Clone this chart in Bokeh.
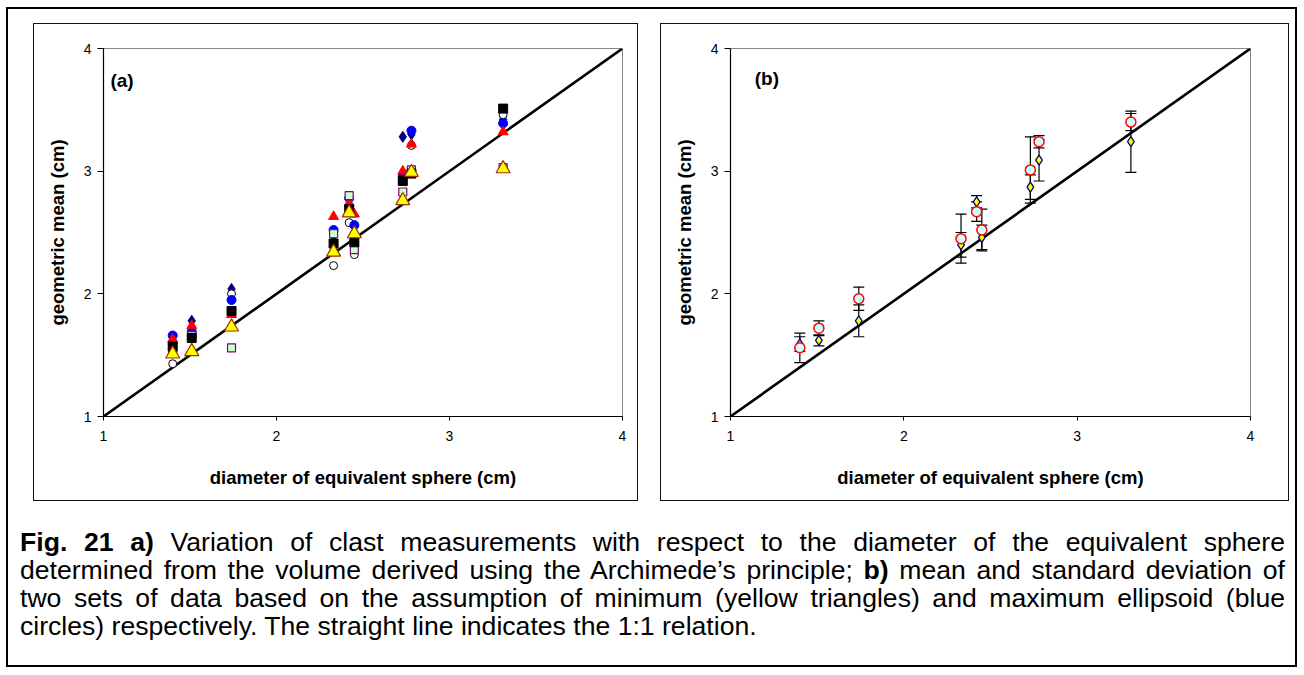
from bokeh.plotting import figure
from bokeh.layouts import row, column
from bokeh.models import Div, Label, Range1d, FixedTicker
from bokeh.embed import file_html
from bokeh.resources import INLINE

# Diameter of the equivalent sphere (cm) for the nine clasts
diameter = [1.40, 1.51, 1.74, 2.33, 2.42, 2.45, 2.73, 2.78, 3.31]

# (a) geometric mean (cm) from each measurement set
gm_navy_diamond = [1.62, 1.78, 2.04, 2.47, 2.72, 2.55, 3.28, 3.30, 3.42]
gm_open_circle = [1.43, 1.65, 2.00, 2.23, 2.58, 2.32, 2.95, 3.21, 3.46]
gm_blue_circle = [1.66, 1.69, 1.95, 2.52, 2.78, 2.56, 2.96, 3.33, 3.39]
gm_red_triangle = [1.63, 1.74, 1.83, 2.63, 2.74, 2.65, 3.00, 3.22, 3.32]
gm_lavender_square = [1.55, 1.66, 1.56, 2.49, 2.80, 2.36, 2.83, 3.01, 3.03]
gm_black_square = [1.57, 1.64, 1.86, 2.41, 2.69, 2.42, 2.92, 2.98, 3.51]
gm_yellow_triangle = [1.51, 1.53, 1.73, 2.34, 2.66, 2.49, 2.76, 2.99, 3.02]

# (b) mean and standard deviation of the two sets
mean_max = [1.56, 1.72, 1.96, 2.45, 2.67, 2.52, 3.01, 3.24, 3.40]
sd_max = [0.12, 0.06, 0.095, 0.20, 0.08, 0.17, 0.27, 0.05, 0.07]
mean_min = [1.59, 1.62, 1.78, 2.40, 2.75, 2.46, 2.87, 3.09, 3.24]
sd_min = [0.06, 0.045, 0.13, 0.10, 0.05, 0.10, 0.10, 0.17, 0.25]

one_to_one = [1, 4]
axis_ticks = [1, 2, 3, 4]

x_title = "diameter of equivalent sphere (cm)"
y_title = "geometric mean (cm)"

caption_lines = [
    "<b>Fig. 21 a)</b> Variation of clast measurements with respect to the diameter of the equivalent sphere",
    "determined from the volume derived using the Archimede\u2019s principle; <b>b)</b> mean and standard deviation of",
    "two sets of data based on the assumption of minimum (yellow triangles) and maximum ellipsoid (blue",
    "circles) respectively. The straight line indicates the 1:1 relation.",
]

FONT = "Liberation Sans"


def make_panel(width, border_left, border_right, tag, tag_x, tag_y, margin):
    p = figure(width=width, height=476, x_range=Range1d(1, 4), y_range=Range1d(1, 4),
               output_backend="svg", toolbar_location=None,
               min_border_left=border_left, min_border_right=border_right,
               min_border_top=24, min_border_bottom=84,
               styles={"outline": "1px solid #111"}, margin=margin)
    p.grid.visible = False
    p.outline_line_color = "#888888"
    p.outline_line_width = 1
    p.background_fill_color = "white"
    p.border_fill_color = "white"
    for ax in (p.xaxis[0], p.yaxis[0]):
        ax.ticker = FixedTicker(ticks=axis_ticks)
        ax.minor_tick_line_color = None
        ax.major_tick_in = 0
        ax.axis_line_color = "black"
        ax.axis_line_width = 1.2
        ax.major_tick_line_color = "black"
        ax.major_label_text_font = FONT
        ax.major_label_text_font_size = "14px"
        ax.major_label_text_color = "black"
        ax.axis_label_text_font = FONT
        ax.axis_label_text_font_style = "bold"
        ax.axis_label_text_font_size = "18.5px"
        ax.axis_label_text_color = "black"
    p.xaxis.axis_label = x_title
    p.yaxis.axis_label = y_title
    p.xaxis.major_tick_out = 4
    p.xaxis.major_label_standoff = 10
    p.xaxis.axis_label_standoff = 23
    p.yaxis.major_tick_out = 6
    p.yaxis.major_label_standoff = 6
    p.yaxis.axis_label_standoff = 13
    p.add_layout(Label(x=tag_x, y=tag_y, text=tag, text_font=FONT, text_font_style="bold",
                       text_font_size="19px", text_baseline="middle", text_color="black"))
    p.line(one_to_one, one_to_one, line_width=2.6, line_color="black")
    return p


# (a) all measurement sets
pa = make_panel(603, 69, 15, "(a)", 1.04, 3.74, (15, 0, 0, 26))
pa.scatter(diameter, gm_navy_diamond, marker="diamond", size=11, fill_color="#000080", line_color="#000080")
pa.scatter(diameter, gm_open_circle, marker="circle", size=8, fill_color="white", line_color="black", line_width=1)
pa.scatter(diameter, gm_blue_circle, marker="circle", size=9, fill_color="#0000FF", line_color="#0000FF")
pa.scatter(diameter, gm_red_triangle, marker="triangle", size=10, fill_color="#FF0000", line_color="#FF0000")
pa.scatter(diameter, gm_lavender_square, marker="square", size=8, fill_color="#CCFFCC", line_color="#800080", line_width=1.2)
pa.scatter(diameter, gm_black_square, marker="square", size=9, fill_color="black", line_color="black")
pa.scatter(diameter, gm_yellow_triangle, marker="triangle", size=14, fill_color="#FFFF00", line_color="#993300", line_width=1.2)

# (b) means with one standard deviation bars
pb = make_panel(627, 69, 38, "(b)", 1.14, 3.755, (15, 7, 0, 24))
lo_min = [m - s for m, s in zip(mean_min, sd_min)]
hi_min = [m + s for m, s in zip(mean_min, sd_min)]
lo_max = [m - s for m, s in zip(mean_max, sd_max)]
hi_max = [m + s for m, s in zip(mean_max, sd_max)]
for lo, hi in ((lo_min, hi_min), (lo_max, hi_max)):
    pb.segment(diameter, lo, diameter, hi, line_color="black", line_width=1.2)
    pb.scatter(diameter, lo, marker="dash", size=11, line_color="black", line_width=1.2)
    pb.scatter(diameter, hi, marker="dash", size=11, line_color="black", line_width=1.2)
pb.scatter(diameter, mean_min, marker="diamond", size=10, fill_color="#FFFF00", line_color="#000080", line_width=1.3)
pb.scatter(diameter, mean_max, marker="circle", size=10, fill_color="#CCFFFF", line_color="#FF0000", line_width=1.5)

caption_html = "".join(
    '<div style="text-align:justify;text-align-last:%s">%s</div>' % ("justify" if i < 3 else "left", line)
    for i, line in enumerate(caption_lines)
)
cap = Div(text='<div style="font-family:\'Liberation Sans\',Arial,sans-serif;font-size:26.6px;'
               'line-height:28px;color:#000;width:1265px">' + caption_html + '</div>',
          width=1265, height=112, margin=(28, 10, 25, 12))

root = column(row(pa, pb), cap, margin=(9, 0, 0, 8),
              styles={"outline": "2px solid black", "background": "white"})

open("out.html", "w").write(file_html(root, INLINE))
